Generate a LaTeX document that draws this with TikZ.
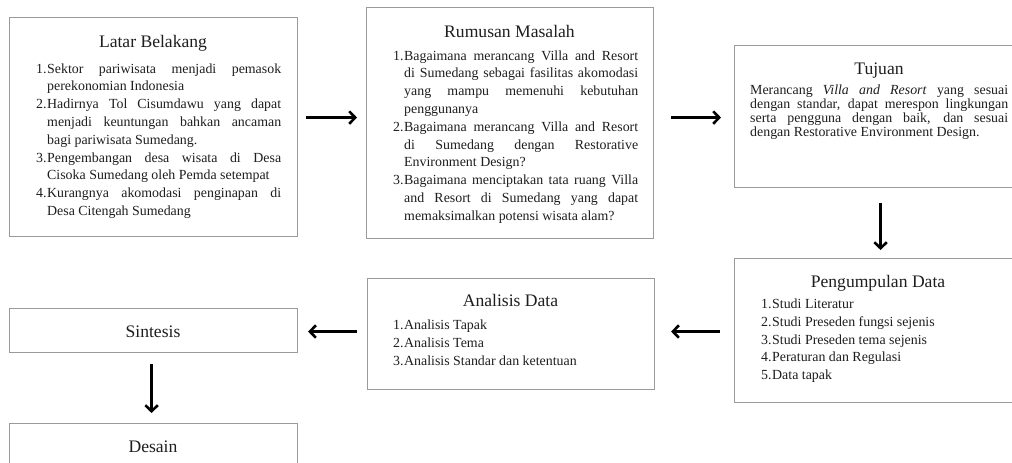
\documentclass[tikz,border=0pt]{standalone}
\usepackage{fontspec}
\setmainfont{Liberation Serif}
\usetikzlibrary{arrows.meta,calc}
\definecolor{boxgray}{HTML}{9A9A9A}
\definecolor{ink}{HTML}{1E1E1E}
\newcommand\myitem[2]{\hangindent=11pt\hangafter=1\noindent\makebox[11pt][l]{#1}#2\par}
\tikzset{
  box/.style={draw=boxgray,line width=1.1pt,inner sep=0pt,anchor=north west},
  ttl/.style={font=\fontsize{17.6}{20}\selectfont,text=ink,anchor=base,inner sep=0pt},
  body/.style={font=\fontsize{13.9}{17.8}\selectfont,text=ink,anchor=base west,inner sep=0pt,text width=245pt,align=justify},
  arr/.style={line width=2.6pt,-{Straight Barb[length=6pt,width=12.5pt]}},
}
\begin{document}
\begin{tikzpicture}
\useasboundingbox (0,0) rectangle (1012pt,-463pt);
\fill[white] (0,0) rectangle (1012pt,-463pt);
\clip (0,0) rectangle (1012pt,-463pt);
\hyphenpenalty=10000 \tolerance=9999
% boxes
\node[box,minimum width=288pt,minimum height=219pt] (latar) at (9pt,-17pt) {};
\node[box,minimum width=287pt,minimum height=231pt] (rumusan) at (366pt,-7pt) {};
\node[box,minimum width=288pt,minimum height=142pt] (tujuan) at (734pt,-45pt) {};
\node[box,minimum width=288pt,minimum height=144pt] (peng) at (734pt,-258pt) {};
\node[box,minimum width=287pt,minimum height=111pt] (analisis) at (367pt,-278pt) {};
\node[box,minimum width=288pt,minimum height=44pt] (sintesis) at (9pt,-308pt) {};
\node[box,minimum width=288pt,minimum height=60pt] (desain) at (9pt,-423pt) {};
% titles
\node[ttl] (latarT) at (153pt,-47pt) {Latar Belakang};
\node[ttl] (rumusanT) at (509.5pt,-37pt) {Rumusan Masalah};
\node[ttl] (tujuanT) at (879pt,-74pt) {Tujuan};
\node[ttl] (pengT) at (878pt,-287pt) {Pengumpulan Data};
\node[ttl] (analisisT) at (510.5pt,-306pt) {Analisis Data};
\node[ttl] (sintesisT) at (153pt,-337pt) {Sintesis};
\node[ttl] (desainT) at (153pt,-452pt) {Desain};
% bodies
\node[body] (latarB) at (36pt,-73pt) {%
\myitem{1.}{Sektor pariwisata menjadi pemasok\linebreak perekonomian Indonesia}%
\myitem{2.}{Hadirnya Tol Cisumdawu yang dapat\linebreak menjadi keuntungan bahkan ancaman\linebreak bagi pariwisata Sumedang.}%
\myitem{3.}{Pengembangan desa wisata di Desa\linebreak Cisoka Sumedang oleh Pemda setempat}%
\myitem{4.}{Kurangnya akomodasi penginapan di\linebreak Desa Citengah Sumedang}};
\node[body] (rumusanB) at (393pt,-60pt) {%
\myitem{1.}{Bagaimana merancang Villa and Resort\linebreak di Sumedang sebagai fasilitas akomodasi\linebreak yang mampu memenuhi kebutuhan\linebreak penggunanya}%
\myitem{2.}{Bagaimana merancang Villa and Resort\linebreak di Sumedang dengan Restorative\linebreak Environment Design?}%
\myitem{3.}{Bagaimana menciptakan tata ruang Villa\linebreak and Resort di Sumedang yang dapat\linebreak memaksimalkan potensi wisata alam?}};
\node[body,text width=258pt,font=\fontsize{13.9}{14}\selectfont] (tujuanB) at (750pt,-94.5pt) {%
\noindent Merancang \textit{Villa and Resort} yang sesuai\linebreak dengan standar, dapat merespon lingkungan\linebreak serta pengguna dengan baik, dan sesuai\linebreak dengan Restorative Environment Design.};
\node[body,text width=240pt] (pengB) at (761pt,-308.5pt) {%
\myitem{1.}{Studi Literatur}%
\myitem{2.}{Studi Preseden fungsi sejenis}%
\myitem{3.}{Studi Preseden tema sejenis}%
\myitem{4.}{Peraturan dan Regulasi}%
\myitem{5.}{Data tapak}};
\node[body,text width=240pt] (analisisB) at (393pt,-329.5pt) {%
\myitem{1.}{Analisis Tapak}%
\myitem{2.}{Analisis Tema}%
\myitem{3.}{Analisis Standar dan ketentuan}};
% arrows
\draw[arr] ($(latar.east)+(8pt,9.5pt)$) -- ($(rumusan.west)+(-9pt,5.5pt)$);
\draw[arr] ($(rumusan.east)+(17pt,5.5pt)$) -- ($(tujuan.west)+(-13pt,-1pt)$);
\draw[arr] ($(tujuan.south)+(2pt,-15pt)$) -- ($(peng.north)+(2pt,8pt)$);
\draw[arr] ($(peng.west)+(-14pt,-1pt)$) -- ($(analisis.east)+(16pt,2.5pt)$);
\draw[arr] ($(analisis.west)+(-10pt,2.5pt)$) -- ($(sintesis.east)+(10pt,-1pt)$);
\draw[arr] ($(sintesis.south)+(-2pt,-11pt)$) -- ($(desain.north)+(-2pt,10pt)$);
\end{tikzpicture}
\end{document}
